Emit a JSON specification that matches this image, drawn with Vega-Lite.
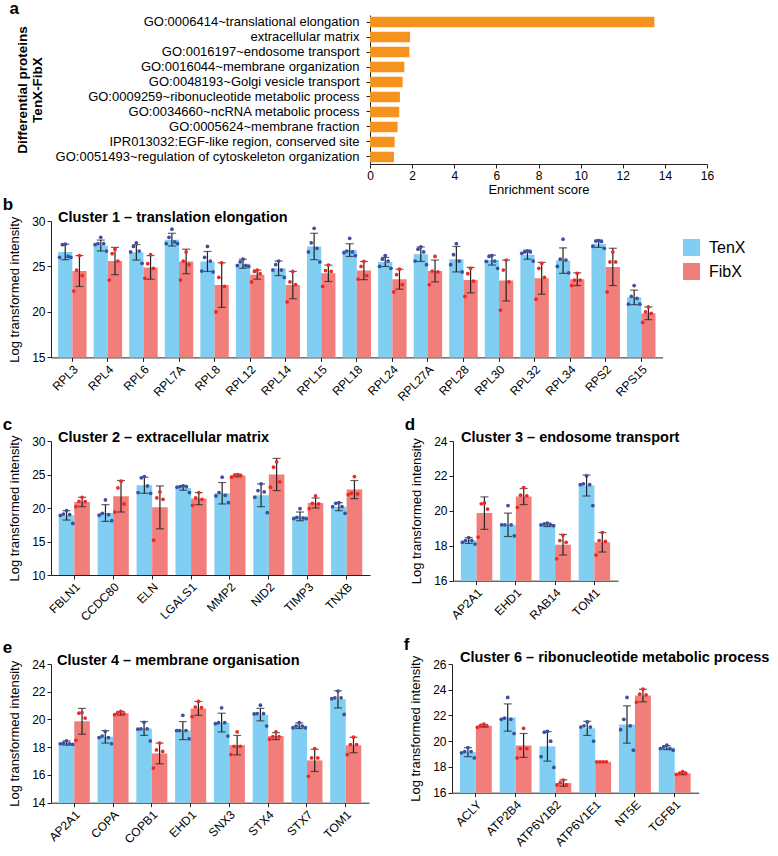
{
"$schema":"https://vega.github.io/schema/vega-lite/v6.json",
"padding":{"left":2,"top":0,"right":5,"bottom":0},
"config":{"font":"Liberation Sans","view":{"stroke":null},
"axis":{"grid":false,"domainColor":"#222","tickColor":"#222","labelColor":"#000","titleColor":"#000","labelFontSize":12,"titleFontSize":13,"titleFontWeight":"normal","tickSize":4,"labelPadding":2},
"axisY":{"labelOverlap":false},
"title":{"color":"#000"}},
"datasets":{
"a":[{"term":"GO:0006414~translational elongation","score":13.5},{"term":"extracellular matrix","score":1.9},{"term":"GO:0016197~endosome transport","score":1.87},{"term":"GO:0016044~membrane organization","score":1.63},{"term":"GO:0048193~Golgi vesicle transport","score":1.55},{"term":"GO:0009259~ribonucleotide metabolic process","score":1.42},{"term":"GO:0034660~ncRNA metabolic process","score":1.39},{"term":"GO:0005624~membrane fraction","score":1.31},{"term":"IPR013032:EGF-like region, conserved site","score":1.17},{"term":"GO:0051493~regulation of cytoskeleton organization","score":1.14}],
"b":[
{"g":"RPL3","grp":"TenX","m":26.6,"lo":25.75,"hi":27.45,"pts":[27.45,27.4,26.1,26.0,26.0],"rep":["T1","T2","T3","T4","T5"]},
{"g":"RPL3","grp":"FibX","m":24.5,"lo":22.8,"hi":26.2,"pts":[26.2,24.6,24.0,22.3],"rep":["F1","F2","F3","F4"]},
{"g":"RPL4","grp":"TenX","m":27.3,"lo":26.7,"hi":27.9,"pts":[28.2,27.5,27.5,27.4,26.7],"rep":["T1","T2","T3","T4","T5"]},
{"g":"RPL4","grp":"FibX","m":25.6,"lo":24.1,"hi":27.1,"pts":[26.9,26.4,25.6,23.5],"rep":["F1","F2","F3","F4"]},
{"g":"RPL6","grp":"TenX","m":26.55,"lo":25.7,"hi":27.4,"pts":[27.6,27.2,26.7,26.6,25.35],"rep":["T1","T2","T3","T4","T5"]},
{"g":"RPL6","grp":"FibX","m":24.9,"lo":23.6,"hi":26.2,"pts":[26.3,25.3,24.8,23.7],"rep":["F1","F2","F3","F4"]},
{"g":"RPL7A","grp":"TenX","m":27.95,"lo":27.25,"hi":28.65,"pts":[29.1,28.2,27.7,27.5,27.5],"rep":["T1","T2","T3","T4","T5"]},
{"g":"RPL7A","grp":"FibX","m":25.55,"lo":24.2,"hi":26.9,"pts":[26.6,25.6,25.2,23.5],"rep":["F1","F2","F3","F4"]},
{"g":"RPL8","grp":"TenX","m":25.55,"lo":24.45,"hi":26.65,"pts":[27.2,26.0,25.6,24.5,24.4],"rep":["T1","T2","T3","T4","T5"]},
{"g":"RPL8","grp":"FibX","m":22.95,"lo":20.5,"hi":25.4,"pts":[25.4,23.8,22.8,20.0],"rep":["F1","F2","F3","F4"]},
{"g":"RPL12","grp":"TenX","m":25.3,"lo":24.8,"hi":25.8,"pts":[25.8,25.5,25.1,25.1,25.0],"rep":["T1","T2","T3","T4","T5"]},
{"g":"RPL12","grp":"FibX","m":24.1,"lo":23.6,"hi":24.6,"pts":[24.6,24.45,24.2,23.3],"rep":["F1","F2","F3","F4"]},
{"g":"RPL14","grp":"TenX","m":24.8,"lo":24.0,"hi":25.6,"pts":[25.6,25.2,24.6,24.6,23.8],"rep":["T1","T2","T3","T4","T5"]},
{"g":"RPL14","grp":"FibX","m":22.95,"lo":21.45,"hi":24.45,"pts":[24.45,23.3,23.0,21.1],"rep":["F1","F2","F3","F4"]},
{"g":"RPL15","grp":"TenX","m":27.2,"lo":25.75,"hi":28.65,"pts":[29.2,27.6,27.0,26.6,25.5],"rep":["T1","T2","T3","T4","T5"]},
{"g":"RPL15","grp":"FibX","m":24.25,"lo":23.35,"hi":25.15,"pts":[25.15,24.55,24.45,22.8],"rep":["F1","F2","F3","F4"]},
{"g":"RPL18","grp":"TenX","m":26.8,"lo":26.1,"hi":27.5,"pts":[28.1,26.7,26.6,26.5,26.2],"rep":["T1","T2","T3","T4","T5"]},
{"g":"RPL18","grp":"FibX","m":24.55,"lo":23.55,"hi":25.55,"pts":[25.55,25.0,24.0,23.6],"rep":["F1","F2","F3","F4"]},
{"g":"RPL24","grp":"TenX","m":25.5,"lo":25.0,"hi":26.0,"pts":[26.2,25.8,25.6,25.0,24.8],"rep":["T1","T2","T3","T4","T5"]},
{"g":"RPL24","grp":"FibX","m":23.6,"lo":22.5,"hi":24.7,"pts":[24.7,24.1,23.0,22.2],"rep":["F1","F2","F3","F4"]},
{"g":"RPL27A","grp":"TenX","m":26.35,"lo":25.55,"hi":27.15,"pts":[27.15,26.9,26.6,25.6,25.2],"rep":["T1","T2","T3","T4","T5"]},
{"g":"RPL27A","grp":"FibX","m":24.5,"lo":23.3,"hi":25.7,"pts":[26.1,24.5,24.4,23.0],"rep":["F1","F2","F3","F4"]},
{"g":"RPL28","grp":"TenX","m":25.8,"lo":24.4,"hi":27.2,"pts":[27.5,26.3,25.6,25.2,24.4],"rep":["T1","T2","T3","T4","T5"]},
{"g":"RPL28","grp":"FibX","m":23.5,"lo":22.1,"hi":24.9,"pts":[24.8,24.2,23.4,21.7],"rep":["F1","F2","F3","F4"]},
{"g":"RPL30","grp":"TenX","m":25.7,"lo":25.15,"hi":26.25,"pts":[26.2,26.1,25.6,25.55,24.8],"rep":["T1","T2","T3","T4","T5"]},
{"g":"RPL30","grp":"FibX","m":23.45,"lo":21.2,"hi":25.7,"pts":[25.7,24.6,23.3,20.2],"rep":["F1","F2","F3","F4"]},
{"g":"RPL32","grp":"TenX","m":26.3,"lo":25.8,"hi":26.8,"pts":[26.7,26.6,26.6,26.45,25.6],"rep":["T1","T2","T3","T4","T5"]},
{"g":"RPL32","grp":"FibX","m":23.7,"lo":21.95,"hi":25.45,"pts":[25.35,24.8,23.8,21.4],"rep":["F1","F2","F3","F4"]},
{"g":"RPL34","grp":"TenX","m":25.65,"lo":24.25,"hi":27.05,"pts":[28.0,25.8,25.7,25.0,24.3],"rep":["T1","T2","T3","T4","T5"]},
{"g":"RPL34","grp":"FibX","m":23.6,"lo":22.9,"hi":24.3,"pts":[24.25,23.5,23.5,22.9],"rep":["F1","F2","F3","F4"]},
{"g":"RPS2","grp":"TenX","m":27.5,"lo":27.1,"hi":27.9,"pts":[27.85,27.8,27.75,27.2,27.0],"rep":["T1","T2","T3","T4","T5"]},
{"g":"RPS2","grp":"FibX","m":24.95,"lo":22.9,"hi":27.0,"pts":[26.6,25.5,25.5,22.2],"rep":["F1","F2","F3","F4"]},
{"g":"RPS15","grp":"TenX","m":21.6,"lo":20.8,"hi":22.4,"pts":[22.9,21.7,21.5,20.85,20.85],"rep":["T1","T2","T3","T4","T5"]},
{"g":"RPS15","grp":"FibX","m":19.85,"lo":19.15,"hi":20.55,"pts":[20.55,20.0,19.85,18.85],"rep":["F1","F2","F3","F4"]}],
"c":[
{"g":"FBLN1","grp":"TenX","m":18.9,"lo":18.2,"hi":19.6,"pts":[19.6,19.1,19.0,18.9,17.7],"rep":["T1","T2","T3","T4","T5"]},
{"g":"FBLN1","grp":"FibX","m":20.9,"lo":20.2,"hi":21.6,"pts":[21.6,21.0,20.95,20.2],"rep":["F1","F2","F3","F4"]},
{"g":"CCDC80","grp":"TenX","m":19.25,"lo":18.0,"hi":20.5,"pts":[21.2,19.2,19.0,18.9,18.1],"rep":["T1","T2","T3","T4","T5"]},
{"g":"CCDC80","grp":"FibX","m":21.75,"lo":19.4,"hi":24.1,"pts":[24.0,23.0,20.6,19.4],"rep":["F1","F2","F3","F4"]},
{"g":"ELN","grp":"TenX","m":23.4,"lo":22.2,"hi":24.6,"pts":[24.7,24.5,23.3,22.3,22.2],"rep":["T1","T2","T3","T4","T5"]},
{"g":"ELN","grp":"FibX","m":20.1,"lo":16.9,"hi":23.3,"pts":[22.4,21.5,21.3,15.2],"rep":["F1","F2","F3","F4"]},
{"g":"LGALS1","grp":"TenX","m":23.0,"lo":22.65,"hi":23.35,"pts":[23.3,23.2,23.2,23.1,22.3],"rep":["T1","T2","T3","T4","T5"]},
{"g":"LGALS1","grp":"FibX","m":21.4,"lo":20.5,"hi":22.3,"pts":[22.3,21.5,21.3,20.4],"rep":["F1","F2","F3","F4"]},
{"g":"MMP2","grp":"TenX","m":22.2,"lo":20.6,"hi":23.8,"pts":[24.6,22.3,21.9,21.8,20.8],"rep":["T1","T2","T3","T4","T5"]},
{"g":"MMP2","grp":"FibX","m":24.85,"lo":24.65,"hi":25.05,"pts":[25.0,24.9,24.85,24.6],"rep":["F1","F2","F3","F4"]},
{"g":"NID2","grp":"TenX","m":21.9,"lo":20.2,"hi":23.6,"pts":[23.6,22.6,22.4,21.6,19.3],"rep":["T1","T2","T3","T4","T5"]},
{"g":"NID2","grp":"FibX","m":25.0,"lo":22.6,"hi":27.4,"pts":[26.9,26.1,23.9,23.1],"rep":["F1","F2","F3","F4"]},
{"g":"TIMP3","grp":"TenX","m":18.75,"lo":18.1,"hi":19.4,"pts":[19.9,18.6,18.5,18.4,18.4],"rep":["T1","T2","T3","T4","T5"]},
{"g":"TIMP3","grp":"FibX","m":20.75,"lo":20.0,"hi":21.5,"pts":[21.8,20.7,20.6,19.9],"rep":["F1","F2","F3","F4"]},
{"g":"TNXB","grp":"TenX","m":20.2,"lo":19.6,"hi":20.8,"pts":[20.8,20.7,20.2,20.2,19.2],"rep":["T1","T2","T3","T4","T5"]},
{"g":"TNXB","grp":"FibX","m":22.75,"lo":21.4,"hi":24.1,"pts":[24.7,22.2,22.1,22.0],"rep":["F1","F2","F3","F4"]}],
"d":[
{"g":"AP2A1","grp":"TenX","m":18.3,"lo":18.13,"hi":18.47,"pts":[18.47,18.3,18.3,18.2,18.1],"rep":["T1","T2","T3","T4","T5"]},
{"g":"AP2A1","grp":"FibX","m":19.87,"lo":18.94,"hi":20.8,"pts":[20.45,20.4,20.1,18.5],"rep":["F1","F2","F3","F4"]},
{"g":"EHD1","grp":"TenX","m":19.2,"lo":18.53,"hi":19.87,"pts":[20.3,19.2,19.2,19.2,18.57],"rep":["T1","T2","T3","T4","T5"]},
{"g":"EHD1","grp":"FibX","m":20.82,"lo":20.36,"hi":21.28,"pts":[21.33,20.9,20.86,20.2],"rep":["F1","F2","F3","F4"]},
{"g":"RAB14","grp":"TenX","m":19.2,"lo":19.1,"hi":19.3,"pts":[19.3,19.24,19.2,19.2,19.15],"rep":["T1","T2","T3","T4","T5"]},
{"g":"RAB14","grp":"FibX","m":18.06,"lo":17.47,"hi":18.65,"pts":[18.6,18.3,18.2,17.25],"rep":["F1","F2","F3","F4"]},
{"g":"TOM1","grp":"TenX","m":21.45,"lo":20.85,"hi":22.05,"pts":[22.0,21.55,21.5,21.5,20.3],"rep":["T1","T2","T3","T4","T5"]},
{"g":"TOM1","grp":"FibX","m":18.2,"lo":17.64,"hi":18.76,"pts":[18.76,18.3,18.25,17.47],"rep":["F1","F2","F3","F4"]}],
"e":[
{"g":"AP2A1","grp":"TenX","m":18.3,"lo":18.15,"hi":18.45,"pts":[18.45,18.3,18.25,18.25,18.2],"rep":["T1","T2","T3","T4","T5"]},
{"g":"AP2A1","grp":"FibX","m":19.87,"lo":18.94,"hi":20.8,"pts":[20.5,20.45,20.1,18.5],"rep":["F1","F2","F3","F4"]},
{"g":"COPA","grp":"TenX","m":18.75,"lo":18.3,"hi":19.2,"pts":[19.15,18.8,18.7,18.7,18.25],"rep":["T1","T2","T3","T4","T5"]},
{"g":"COPA","grp":"FibX","m":20.45,"lo":20.32,"hi":20.58,"pts":[20.58,20.5,20.4,20.35],"rep":["F1","F2","F3","F4"]},
{"g":"COPB1","grp":"TenX","m":19.35,"lo":18.85,"hi":19.85,"pts":[19.8,19.33,19.33,19.3,18.45],"rep":["T1","T2","T3","T4","T5"]},
{"g":"COPB1","grp":"FibX","m":17.55,"lo":16.8,"hi":18.3,"pts":[18.3,17.8,17.7,16.5],"rep":["F1","F2","F3","F4"]},
{"g":"EHD1","grp":"TenX","m":19.2,"lo":18.55,"hi":19.85,"pts":[20.3,19.2,19.2,19.2,18.6],"rep":["T1","T2","T3","T4","T5"]},
{"g":"EHD1","grp":"FibX","m":20.8,"lo":20.3,"hi":21.3,"pts":[21.3,20.9,20.85,20.2],"rep":["F1","F2","F3","F4"]},
{"g":"SNX3","grp":"TenX","m":19.77,"lo":19.1,"hi":20.45,"pts":[20.84,19.77,19.77,19.7,18.8],"rep":["T1","T2","T3","T4","T5"]},
{"g":"SNX3","grp":"FibX","m":18.15,"lo":17.45,"hi":18.85,"pts":[19.1,18.07,18.07,17.47],"rep":["F1","F2","F3","F4"]},
{"g":"STX4","grp":"TenX","m":20.35,"lo":19.9,"hi":20.8,"pts":[21.03,20.43,20.43,20.4,19.53],"rep":["T1","T2","T3","T4","T5"]},
{"g":"STX4","grp":"FibX","m":18.8,"lo":18.55,"hi":19.05,"pts":[19.1,18.76,18.76,18.57],"rep":["F1","F2","F3","F4"]},
{"g":"STX7","grp":"TenX","m":19.55,"lo":19.35,"hi":19.75,"pts":[19.77,19.53,19.53,19.4,19.4],"rep":["T1","T2","T3","T4","T5"]},
{"g":"STX7","grp":"FibX","m":17.05,"lo":16.25,"hi":17.85,"pts":[17.9,17.23,17.23,15.9],"rep":["F1","F2","F3","F4"]},
{"g":"TOM1","grp":"TenX","m":21.45,"lo":20.83,"hi":22.07,"pts":[22.05,21.56,21.56,21.5,20.36],"rep":["T1","T2","T3","T4","T5"]},
{"g":"TOM1","grp":"FibX","m":18.15,"lo":17.6,"hi":18.72,"pts":[18.72,18.19,18.19,17.47],"rep":["F1","F2","F3","F4"]}],
"f":[
{"g":"ACLY","grp":"TenX","m":19.15,"lo":18.8,"hi":19.5,"pts":[19.5,19.2,19.2,19.1,18.7],"rep":["T1","T2","T3","T4","T5"]},
{"g":"ACLY","grp":"FibX","m":21.2,"lo":21.1,"hi":21.3,"pts":[21.33,21.23,21.15,21.08],"rep":["F1","F2","F3","F4"]},
{"g":"ATP2B4","grp":"TenX","m":21.84,"lo":20.78,"hi":22.9,"pts":[23.4,21.8,21.7,21.7,20.6],"rep":["T1","T2","T3","T4","T5"]},
{"g":"ATP2B4","grp":"FibX","m":19.67,"lo":18.74,"hi":20.6,"pts":[21.0,19.43,19.43,18.7],"rep":["F1","F2","F3","F4"]},
{"g":"ATP6V1B2","grp":"TenX","m":19.6,"lo":18.45,"hi":20.75,"pts":[20.77,20.7,20.0,18.8,17.96],"rep":["T1","T2","T3","T4","T5"]},
{"g":"ATP6V1B2","grp":"FibX","m":16.75,"lo":16.5,"hi":17.0,"pts":[16.98,16.78,16.6,16.6],"rep":["F1","F2","F3","F4"]},
{"g":"ATP6V1E1","grp":"TenX","m":21.0,"lo":20.45,"hi":21.55,"pts":[21.5,21.2,21.1,21.1,20.0],"rep":["T1","T2","T3","T4","T5"]},
{"g":"ATP6V1E1","grp":"FibX","m":18.4,"lo":18.38,"hi":18.42,"pts":[18.4,18.4,18.4,18.4],"rep":["F1","F2","F3","F4"]},
{"g":"NT5E","grp":"TenX","m":21.3,"lo":19.85,"hi":22.75,"pts":[23.4,21.7,21.2,20.9,19.3],"rep":["T1","T2","T3","T4","T5"]},
{"g":"NT5E","grp":"FibX","m":23.55,"lo":23.06,"hi":24.04,"pts":[24.04,23.65,23.6,23.03],"rep":["F1","F2","F3","F4"]},
{"g":"TGFB1","grp":"TenX","m":19.5,"lo":19.35,"hi":19.65,"pts":[19.69,19.56,19.43,19.43,19.3],"rep":["T1","T2","T3","T4","T5"]},
{"g":"TGFB1","grp":"FibX","m":17.5,"lo":17.4,"hi":17.6,"pts":[17.63,17.5,17.5,17.42],"rep":["F1","F2","F3","F4"]}]
},
"resolve":{"scale":{"color":"independent","fill":"independent"}},
"columns":1,
"align":"none",
"spacing":0,
"concat":[
{"title":{"text":"a","anchor":"start","frame":"bounds","fontSize":17,"fontWeight":"bold","dx":-6,"offset":-16,"baseline":"alphabetic"},
"vconcat":[{
"width":656,"height":149,"data":{"name":"a"},
"mark":{"type":"bar","color":"#F6921E"},
"encoding":{
"y":{"field":"term","type":"nominal","sort":null,"scale":{"paddingInner":0.3,"paddingOuter":0.12},"axis":{"offset":-319,"title":["Differential proteins","TenX-FibX"],"titleFontWeight":"bold","titleFontSize":13.5,"titleLineHeight":15,"titleX":-347.5,"titleY":74.5,"titleAngle":-90,"titleAlign":"center","titleBaseline":"middle","labelFontSize":13,"labelPadding":7,"labelLimit":400}},
"x":{"field":"score","type":"quantitative","scale":{"domain":[0,16],"range":[319,656],"nice":false},"axis":{"values":[0,2,4,6,8,10,12,14,16],"title":"Enrichment score","labelFlush":false,"titlePadding":2}}}}]},
{"columns":1,"align":"none","spacing":13,"resolve":{"scale":{"color":"independent","fill":"independent"}},
"concat":[
{"title":{"text":"b","anchor":"start","frame":"bounds","fontSize":17,"fontWeight":"bold","dx":-6,"offset":-17,"baseline":"alphabetic"},
"vconcat":[{
"width":611.6,"height":136.4,"data":{"name":"b"},
"title":{"text":"Cluster 1 – translation elongation","anchor":"start","frame":"group","fontSize":14.5,"fontWeight":"bold","dx":7,"offset":-21.5,"baseline":"alphabetic"},
"encoding":{"x":{"field":"g","type":"nominal","sort":null,"scale":{"paddingInner":0.2,"paddingOuter":0.2},"axis":{"title":null,"labelAngle":-45}}},
"layer":[
{"mark":{"type":"bar"},"encoding":{"xOffset":{"field":"grp","type":"nominal","scale":{"domain":["TenX","FibX"]}},"y":{"field":"m","type":"quantitative","scale":{"domain":[15,30],"nice":false,"zero":false},"axis":{"title":"Log transformed intensity","values":[15,20,25,30],"titlePadding":10}},"y2":{"datum":15},"color":{"field":"grp","type":"nominal","scale":{"domain":["TenX","FibX"],"range":["#80CFF3","#F27E7B"]},"legend":{"title":null,"orient":"right","offset":2,"padding":18,"symbolType":"square","symbolSize":289,"symbolStrokeWidth":0,"labelFontSize":16,"rowPadding":7,"labelOffset":9,"labelColor":"#000"}}}},
{"mark":{"type":"rule","color":"#222","strokeWidth":1.2},"encoding":{"xOffset":{"field":"grp","type":"nominal","scale":{"domain":["TenX","FibX"]}},"y":{"field":"lo","type":"quantitative","axis":{"title":"Log transformed intensity","values":[15,20,25,30],"titlePadding":10}},"y2":{"field":"hi"}}},
{"mark":{"type":"tick","orient":"horizontal","color":"#222","size":8,"thickness":1.2},"encoding":{"xOffset":{"field":"grp","type":"nominal","scale":{"domain":["TenX","FibX"]}},"y":{"field":"hi","type":"quantitative","axis":{"title":"Log transformed intensity","values":[15,20,25,30],"titlePadding":10}}}},
{"mark":{"type":"tick","orient":"horizontal","color":"#222","size":8,"thickness":1.2},"encoding":{"xOffset":{"field":"grp","type":"nominal","scale":{"domain":["TenX","FibX"]}},"y":{"field":"lo","type":"quantitative","axis":{"title":"Log transformed intensity","values":[15,20,25,30],"titlePadding":10}}}},
{"transform":[{"flatten":["pts","rep"]}],"mark":{"type":"circle","size":14,"opacity":1},"encoding":{"xOffset":{"field":"rep","type":"nominal","scale":{"domain":["T4","T2","T1","T3","T5","F4","F2","F1","F3","F5"]}},"y":{"field":"pts","type":"quantitative","axis":{"title":"Log transformed intensity","values":[15,20,25,30],"titlePadding":10}},"fill":{"field":"rep","type":"nominal","scale":{"domain":["T4","T2","T1","T3","T5","F4","F2","F1","F3","F5"],"range":["#3B4FA3","#3B4FA3","#3B4FA3","#3B4FA3","#3B4FA3","#EB2A25","#EB2A25","#EB2A25","#EB2A25","#EB2A25"]},"legend":null}}}
],
"resolve":{"scale":{"xOffset":"independent"}}}]},
{"spacing":34,"resolve":{"scale":{"color":"independent","fill":"independent"}},
"hconcat":[
{"title":{"text":"c","anchor":"start","frame":"bounds","fontSize":17,"fontWeight":"bold","dx":-6,"offset":-17,"baseline":"alphabetic"},
"vconcat":[{
"width":319,"height":134,"data":{"name":"c"},
"title":{"text":"Cluster 2 – extracellular matrix","anchor":"start","frame":"group","fontSize":14.5,"fontWeight":"bold","dx":7,"offset":-21.5,"baseline":"alphabetic"},
"encoding":{"x":{"field":"g","type":"nominal","sort":null,"scale":{"paddingInner":0.2,"paddingOuter":0.2},"axis":{"title":null,"labelAngle":-45}}},
"layer":[
{"mark":{"type":"bar"},"encoding":{"xOffset":{"field":"grp","type":"nominal","scale":{"domain":["TenX","FibX"]}},"y":{"field":"m","type":"quantitative","scale":{"domain":[10,30],"nice":false,"zero":false},"axis":{"title":"Log transformed intensity","values":[10,15,20,25,30],"titlePadding":10}},"y2":{"datum":10},"color":{"field":"grp","type":"nominal","scale":{"domain":["TenX","FibX"],"range":["#80CFF3","#F27E7B"]},"legend":null}}},
{"mark":{"type":"rule","color":"#222","strokeWidth":1.2},"encoding":{"xOffset":{"field":"grp","type":"nominal","scale":{"domain":["TenX","FibX"]}},"y":{"field":"lo","type":"quantitative","axis":{"title":"Log transformed intensity","values":[10,15,20,25,30],"titlePadding":10}},"y2":{"field":"hi"}}},
{"mark":{"type":"tick","orient":"horizontal","color":"#222","size":8,"thickness":1.2},"encoding":{"xOffset":{"field":"grp","type":"nominal","scale":{"domain":["TenX","FibX"]}},"y":{"field":"hi","type":"quantitative","axis":{"title":"Log transformed intensity","values":[10,15,20,25,30],"titlePadding":10}}}},
{"mark":{"type":"tick","orient":"horizontal","color":"#222","size":8,"thickness":1.2},"encoding":{"xOffset":{"field":"grp","type":"nominal","scale":{"domain":["TenX","FibX"]}},"y":{"field":"lo","type":"quantitative","axis":{"title":"Log transformed intensity","values":[10,15,20,25,30],"titlePadding":10}}}},
{"transform":[{"flatten":["pts","rep"]}],"mark":{"type":"circle","size":14,"opacity":1},"encoding":{"xOffset":{"field":"rep","type":"nominal","scale":{"domain":["T4","T2","T1","T3","T5","F4","F2","F1","F3","F5"]}},"y":{"field":"pts","type":"quantitative","axis":{"title":"Log transformed intensity","values":[10,15,20,25,30],"titlePadding":10}},"fill":{"field":"rep","type":"nominal","scale":{"domain":["T4","T2","T1","T3","T5","F4","F2","F1","F3","F5"],"range":["#3B4FA3","#3B4FA3","#3B4FA3","#3B4FA3","#3B4FA3","#EB2A25","#EB2A25","#EB2A25","#EB2A25","#EB2A25"]},"legend":null}}}
],
"resolve":{"scale":{"xOffset":"independent"}}}]},
{"title":{"text":"d","anchor":"start","frame":"bounds","fontSize":17,"fontWeight":"bold","dx":-6,"offset":-17,"baseline":"alphabetic"},
"vconcat":[{
"width":165,"height":139.7,"data":{"name":"d"},
"title":{"text":"Cluster 3 – endosome transport","anchor":"start","frame":"group","fontSize":14.5,"fontWeight":"bold","dx":8,"offset":-21.5,"baseline":"alphabetic"},
"encoding":{"x":{"field":"g","type":"nominal","sort":null,"scale":{"paddingInner":0.2,"paddingOuter":0.2},"axis":{"title":null,"labelAngle":-45}}},
"layer":[
{"mark":{"type":"bar"},"encoding":{"xOffset":{"field":"grp","type":"nominal","scale":{"domain":["TenX","FibX"]}},"y":{"field":"m","type":"quantitative","scale":{"domain":[16,24],"nice":false,"zero":false},"axis":{"title":"Log transformed intensity","values":[16,18,20,22,24],"titlePadding":10}},"y2":{"datum":16},"color":{"field":"grp","type":"nominal","scale":{"domain":["TenX","FibX"],"range":["#80CFF3","#F27E7B"]},"legend":null}}},
{"mark":{"type":"rule","color":"#222","strokeWidth":1.2},"encoding":{"xOffset":{"field":"grp","type":"nominal","scale":{"domain":["TenX","FibX"]}},"y":{"field":"lo","type":"quantitative","axis":{"title":"Log transformed intensity","values":[16,18,20,22,24],"titlePadding":10}},"y2":{"field":"hi"}}},
{"mark":{"type":"tick","orient":"horizontal","color":"#222","size":8,"thickness":1.2},"encoding":{"xOffset":{"field":"grp","type":"nominal","scale":{"domain":["TenX","FibX"]}},"y":{"field":"hi","type":"quantitative","axis":{"title":"Log transformed intensity","values":[16,18,20,22,24],"titlePadding":10}}}},
{"mark":{"type":"tick","orient":"horizontal","color":"#222","size":8,"thickness":1.2},"encoding":{"xOffset":{"field":"grp","type":"nominal","scale":{"domain":["TenX","FibX"]}},"y":{"field":"lo","type":"quantitative","axis":{"title":"Log transformed intensity","values":[16,18,20,22,24],"titlePadding":10}}}},
{"transform":[{"flatten":["pts","rep"]}],"mark":{"type":"circle","size":14,"opacity":1},"encoding":{"xOffset":{"field":"rep","type":"nominal","scale":{"domain":["T4","T2","T1","T3","T5","F4","F2","F1","F3","F5"]}},"y":{"field":"pts","type":"quantitative","axis":{"title":"Log transformed intensity","values":[16,18,20,22,24],"titlePadding":10}},"fill":{"field":"rep","type":"nominal","scale":{"domain":["T4","T2","T1","T3","T5","F4","F2","F1","F3","F5"],"range":["#3B4FA3","#3B4FA3","#3B4FA3","#3B4FA3","#3B4FA3","#EB2A25","#EB2A25","#EB2A25","#EB2A25","#EB2A25"]},"legend":null}}}
],
"resolve":{"scale":{"xOffset":"independent"}}}]}
]},
{"spacing":34,"resolve":{"scale":{"color":"independent","fill":"independent"}},
"hconcat":[
{"title":{"text":"e","anchor":"start","frame":"bounds","fontSize":17,"fontWeight":"bold","dx":-6,"offset":-17,"baseline":"alphabetic"},
"vconcat":[{
"width":318,"height":138.7,"data":{"name":"e"},
"title":{"text":"Cluster 4 – membrane organisation","anchor":"start","frame":"group","fontSize":14.5,"fontWeight":"bold","dx":6,"offset":-21.5,"baseline":"alphabetic"},
"encoding":{"x":{"field":"g","type":"nominal","sort":null,"scale":{"paddingInner":0.2,"paddingOuter":0.2},"axis":{"title":null,"labelAngle":-45}}},
"layer":[
{"mark":{"type":"bar"},"encoding":{"xOffset":{"field":"grp","type":"nominal","scale":{"domain":["TenX","FibX"]}},"y":{"field":"m","type":"quantitative","scale":{"domain":[14,24],"nice":false,"zero":false},"axis":{"title":"Log transformed intensity","values":[14,16,18,20,22,24],"titlePadding":10}},"y2":{"datum":14},"color":{"field":"grp","type":"nominal","scale":{"domain":["TenX","FibX"],"range":["#80CFF3","#F27E7B"]},"legend":null}}},
{"mark":{"type":"rule","color":"#222","strokeWidth":1.2},"encoding":{"xOffset":{"field":"grp","type":"nominal","scale":{"domain":["TenX","FibX"]}},"y":{"field":"lo","type":"quantitative","axis":{"title":"Log transformed intensity","values":[14,16,18,20,22,24],"titlePadding":10}},"y2":{"field":"hi"}}},
{"mark":{"type":"tick","orient":"horizontal","color":"#222","size":8,"thickness":1.2},"encoding":{"xOffset":{"field":"grp","type":"nominal","scale":{"domain":["TenX","FibX"]}},"y":{"field":"hi","type":"quantitative","axis":{"title":"Log transformed intensity","values":[14,16,18,20,22,24],"titlePadding":10}}}},
{"mark":{"type":"tick","orient":"horizontal","color":"#222","size":8,"thickness":1.2},"encoding":{"xOffset":{"field":"grp","type":"nominal","scale":{"domain":["TenX","FibX"]}},"y":{"field":"lo","type":"quantitative","axis":{"title":"Log transformed intensity","values":[14,16,18,20,22,24],"titlePadding":10}}}},
{"transform":[{"flatten":["pts","rep"]}],"mark":{"type":"circle","size":14,"opacity":1},"encoding":{"xOffset":{"field":"rep","type":"nominal","scale":{"domain":["T4","T2","T1","T3","T5","F4","F2","F1","F3","F5"]}},"y":{"field":"pts","type":"quantitative","axis":{"title":"Log transformed intensity","values":[14,16,18,20,22,24],"titlePadding":10}},"fill":{"field":"rep","type":"nominal","scale":{"domain":["T4","T2","T1","T3","T5","F4","F2","F1","F3","F5"],"range":["#3B4FA3","#3B4FA3","#3B4FA3","#3B4FA3","#3B4FA3","#EB2A25","#EB2A25","#EB2A25","#EB2A25","#EB2A25"]},"legend":null}}}
],
"resolve":{"scale":{"xOffset":"independent"}}}]},
{"title":{"text":"f","anchor":"start","frame":"bounds","fontSize":17,"fontWeight":"bold","dx":-6,"offset":-17,"baseline":"alphabetic"},
"vconcat":[{
"width":246.6,"height":128.7,"data":{"name":"f"},
"title":{"text":"Cluster 6 – ribonucleotide metabolic process","anchor":"start","frame":"group","fontSize":14.5,"fontWeight":"bold","dx":8,"offset":-21.5,"baseline":"alphabetic"},
"encoding":{"x":{"field":"g","type":"nominal","sort":null,"scale":{"paddingInner":0.2,"paddingOuter":0.2},"axis":{"title":null,"labelAngle":-45}}},
"layer":[
{"mark":{"type":"bar"},"encoding":{"xOffset":{"field":"grp","type":"nominal","scale":{"domain":["TenX","FibX"]}},"y":{"field":"m","type":"quantitative","scale":{"domain":[16,26],"nice":false,"zero":false},"axis":{"title":"Log transformed intensity","values":[16,18,20,22,24,26],"titlePadding":10}},"y2":{"datum":16},"color":{"field":"grp","type":"nominal","scale":{"domain":["TenX","FibX"],"range":["#80CFF3","#F27E7B"]},"legend":null}}},
{"mark":{"type":"rule","color":"#222","strokeWidth":1.2},"encoding":{"xOffset":{"field":"grp","type":"nominal","scale":{"domain":["TenX","FibX"]}},"y":{"field":"lo","type":"quantitative","axis":{"title":"Log transformed intensity","values":[16,18,20,22,24,26],"titlePadding":10}},"y2":{"field":"hi"}}},
{"mark":{"type":"tick","orient":"horizontal","color":"#222","size":8,"thickness":1.2},"encoding":{"xOffset":{"field":"grp","type":"nominal","scale":{"domain":["TenX","FibX"]}},"y":{"field":"hi","type":"quantitative","axis":{"title":"Log transformed intensity","values":[16,18,20,22,24,26],"titlePadding":10}}}},
{"mark":{"type":"tick","orient":"horizontal","color":"#222","size":8,"thickness":1.2},"encoding":{"xOffset":{"field":"grp","type":"nominal","scale":{"domain":["TenX","FibX"]}},"y":{"field":"lo","type":"quantitative","axis":{"title":"Log transformed intensity","values":[16,18,20,22,24,26],"titlePadding":10}}}},
{"transform":[{"flatten":["pts","rep"]}],"mark":{"type":"circle","size":14,"opacity":1},"encoding":{"xOffset":{"field":"rep","type":"nominal","scale":{"domain":["T4","T2","T1","T3","T5","F4","F2","F1","F3","F5"]}},"y":{"field":"pts","type":"quantitative","axis":{"title":"Log transformed intensity","values":[16,18,20,22,24,26],"titlePadding":10}},"fill":{"field":"rep","type":"nominal","scale":{"domain":["T4","T2","T1","T3","T5","F4","F2","F1","F3","F5"],"range":["#3B4FA3","#3B4FA3","#3B4FA3","#3B4FA3","#3B4FA3","#EB2A25","#EB2A25","#EB2A25","#EB2A25","#EB2A25"]},"legend":null}}}
],
"resolve":{"scale":{"xOffset":"independent"}}}]}
]}
]}
]
}
